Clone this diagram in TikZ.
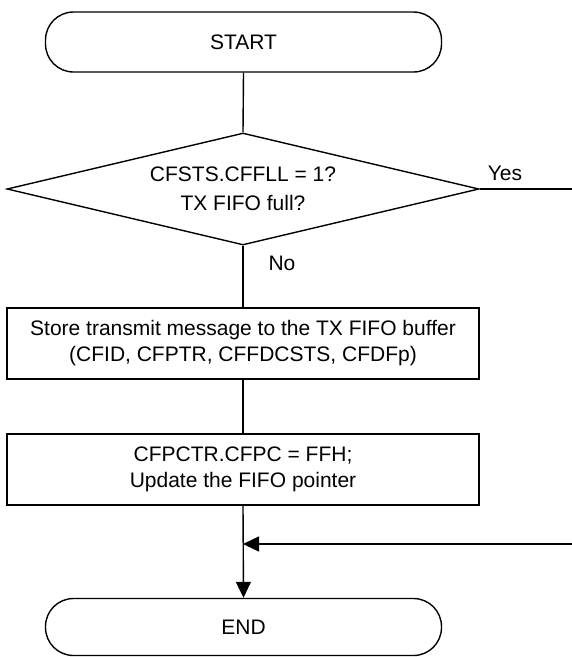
\documentclass[tikz,border=0pt]{standalone}
\usepackage{fontspec}
\setmainfont{Liberation Sans}
\usetikzlibrary{shapes.geometric,arrows.meta}
\tikzset{
  base/.style={draw=black, line width=1.4pt, align=center, font=\fontsize{21}{26}\selectfont, inner sep=0pt},
  term/.style={base, rounded corners=28pt, minimum width=396pt, minimum height=60pt},
  procbox/.style={base, minimum width=472pt, minimum height=71pt},
  decision/.style={base, shape=diamond, aspect=4.2, minimum width=472pt, minimum height=112pt, font=\fontsize{21}{29}\selectfont},
  lbl/.style={font=\fontsize{21}{26}\selectfont, inner sep=0pt},
  conn/.style={line width=1.4pt},
  arr/.style={conn, -{Triangle[length=16pt,width=15pt]}},
}
\begin{document}
\begin{tikzpicture}[x=1pt,y=-1pt]
\useasboundingbox (0,0) rectangle (572,657);
\node[term] (start) at (243.5,42) {START};
\node[decision] (dec) at (243,189) {CFSTS.CFFLL = 1?\\TX FIFO full?};
\node[procbox] (box1) at (243,343.5) {Store transmit message to the TX FIFO buffer\\(CFID, CFPTR, CFFDCSTS, CFDFp)};
\node[procbox] (box2) at (243,469.5) {CFPCTR.CFPC = FFH;\\Update the FIFO pointer};
\node[term, minimum height=57pt] (end) at (243.5,627) {END};
\coordinate (yesend) at (572,189);
\coordinate (retin) at (572,544);
\node[lbl] (yes) at (505,173) {Yes};
\node[lbl] (no) at (282,263) {No};
\draw[conn] (start.south) -- (dec.north);
\draw[conn] (dec.south) -- (box1.north);
\draw[conn] (dec.east) -- (yesend);
\draw[conn] (box1.south) -- (box2.north);
\draw[arr] (box2.south) -- (end.north);
\draw[arr] (retin) -- (box2.south |- retin);
\end{tikzpicture}
\end{document}
